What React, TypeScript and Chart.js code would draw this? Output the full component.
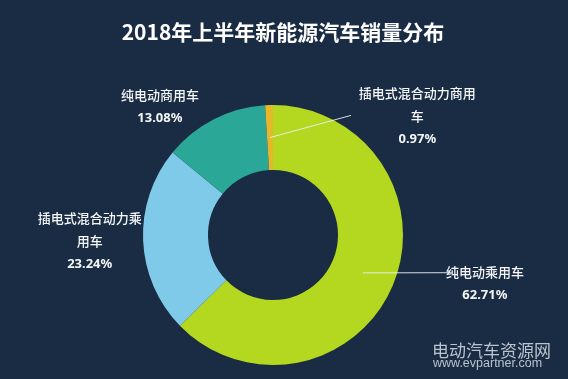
import React, { useEffect, useRef } from 'react';
import { Chart, registerables } from 'chart.js';

Chart.register(...registerables);

const titleText = '2018年上半年新能源汽车销量分布';
const categories = ['纯电动乘用车', '插电式混合动力乘用车', '纯电动商用车', '插电式混合动力商用车'];
const shares = [62.71, 23.24, 13.08, 0.97];
const labelLines = [['纯电动乘用车'], ['插电式混合动力乘', '用车'], ['纯电动商用车'], ['插电式混合动力商用', '车']];
const sliceColors = ['#b3d81f', '#7ecae8', '#2ba797', '#e5b72b'];

// label placement relative to doughnut centre, in units of the outer radius
const labelAnchors = [
  { dx: 1.63, dy: 0.285, line: [1.375, 0.29] },
  { dx: -1.41, dy: -0.13, line: null },
  { dx: -0.87, dy: -1.075, line: null },
  { dx: 1.11, dy: -1.09, line: [0.6, -0.92] },
];

const BG = '#1a2c43';

const labelPlugin = {
  id: 'sliceLabels',
  beforeDraw(chart: any) {
    const { ctx, width, height } = chart;
    ctx.save();
    ctx.fillStyle = BG;
    ctx.fillRect(0, 0, width, height);
    ctx.restore();
  },
  afterDraw(chart: any) {
    const { ctx } = chart;
    const meta = chart.getDatasetMeta(0);
    ctx.save();
    // title
    ctx.fillStyle = '#ffffff';
    ctx.textAlign = 'center';
    ctx.textBaseline = 'middle';
    ctx.font = 'bold 21px "Noto Sans CJK SC", "Noto Sans", sans-serif';
    ctx.fillText(titleText, 283, 32);
    meta.data.forEach((arc: any, i: number) => {
      const { x, y, startAngle, endAngle, outerRadius, innerRadius } = arc.getProps(
        ['x', 'y', 'startAngle', 'endAngle', 'outerRadius', 'innerRadius'],
        true
      );
      const R = outerRadius;
      const a = labelAnchors[i];
      const mid = (startAngle + endAngle) / 2;
      const rm = (outerRadius + innerRadius) / 2;
      if (a.line) {
        const sx = x + Math.cos(mid) * rm;
        const sy = y + Math.sin(mid) * rm;
        ctx.strokeStyle = 'rgba(235,240,245,0.9)';
        ctx.lineWidth = 1;
        ctx.beginPath();
        ctx.moveTo(sx, sy);
        ctx.lineTo(x + a.line[0] * R, y + a.line[1] * R);
        ctx.stroke();
      }
      const cx = x + a.dx * R;
      let ly = y + a.dy * R;
      ctx.fillStyle = '#f4f6f8';
      ctx.textAlign = 'center';
      ctx.textBaseline = 'middle';
      ctx.font = '500 13px "Noto Sans CJK SC", "Noto Sans", sans-serif';
      labelLines[i].forEach((t) => {
        ctx.fillText(t, cx, ly);
        ly += 23;
      });
      ctx.font = 'bold 13px "Noto Sans", "Noto Sans CJK SC", sans-serif';
      ctx.fillText(shares[i].toFixed(2) + '%', cx, ly);
    });
    // watermark
    ctx.fillStyle = 'rgba(215,222,230,0.85)';
    ctx.textAlign = 'left';
    ctx.textBaseline = 'middle';
    ctx.font = '17px "Noto Sans CJK SC", sans-serif';
    ctx.fillText('电动汽车资源网', 432, 351);
    ctx.font = '12.5px "Liberation Sans", Arial, sans-serif';
    ctx.fillText('www.evpartner.com', 433, 364);
    ctx.restore();
  },
};

export default function App() {
  const ref = useRef<HTMLCanvasElement>(null);
  useEffect(() => {
    document.body.style.margin = '0';
    const chart = new Chart(ref.current!, {
      type: 'doughnut',
      data: {
        labels: categories,
        datasets: [
          {
            data: shares,
            backgroundColor: sliceColors,
            borderWidth: 0,
          },
        ],
      },
      options: {
        responsive: false,
        animation: false,
        cutout: '50%',
        layout: { padding: { left: 143, right: 165, top: 105, bottom: 14 } },
        plugins: {
          legend: { display: false },
          tooltip: { enabled: false },
          title: { display: false },
        },
      },
      plugins: [labelPlugin],
    });
    return () => chart.destroy();
  }, []);
  return (
    <div style={{ width: 568, height: 379, background: BG }}>
      <canvas ref={ref} width={568} height={379} style={{ display: 'block' }} />
    </div>
  );
}
